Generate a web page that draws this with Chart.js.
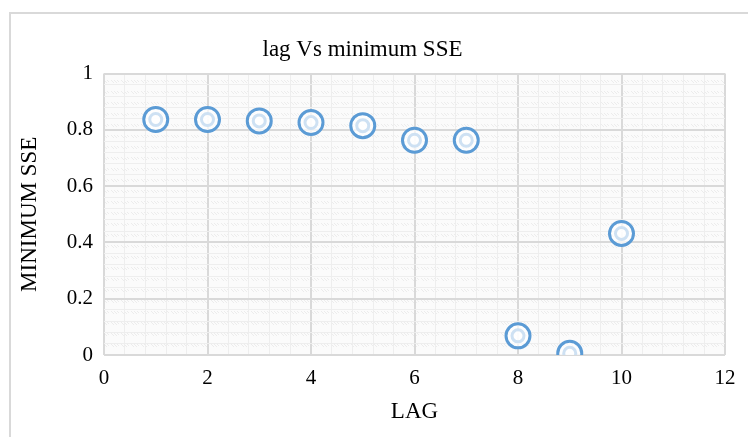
<!DOCTYPE html>
<html><head><meta charset="utf-8">
<script src="https://cdn.jsdelivr.net/npm/chart.js@4/dist/chart.umd.min.js"></script>
<style>
html,body{margin:0;padding:0;background:#fff;}
#wrap{position:relative;width:748px;height:437px;}
#frame{position:absolute;left:9px;top:12px;width:760px;height:440px;border:2px solid #d9d9d9;box-sizing:border-box;}
canvas{position:absolute;left:0;top:0;}
</style></head>
<body>
<div id="wrap"><div id="frame"></div><canvas id="c" width="748" height="437"></canvas></div>
<script>
const lags = [1, 2, 3, 4, 5, 6, 7, 8, 9, 10];
const minSSE = [0.837, 0.837, 0.832, 0.826, 0.815, 0.763, 0.763, 0.068, 0.006, 0.432];
const xTickLabels = [0, 2, 4, 6, 8, 10, 12];
const yTickLabels = [0, 0.2, 0.4, 0.6, 0.8, 1];

const points = lags.map((x, i) => ({x: x, y: minSSE[i]}));
const blue = '#5b9bd5';
const serif = '"Liberation Serif", "Times New Roman", serif';
const tickFont = {family: serif, size: 21};
const titleFont = {family: serif, size: 23, weight: 'normal'};

function makePattern(ctx) {
  const p = document.createElement('canvas');
  p.width = 10; p.height = 11;
  const g = p.getContext('2d');
  g.fillStyle = '#fbfbfb'; g.fillRect(0, 0, 10, 11);
  g.strokeStyle = '#ececec'; g.lineWidth = 1;
  g.beginPath(); g.moveTo(1, 3); g.lineTo(4, 6); g.moveTo(4, 3); g.lineTo(7, 6); g.moveTo(7, 3); g.lineTo(9, 5); g.stroke();
  return ctx.createPattern(p, 'repeat');
}

const bgPlugin = {
  id: 'bgPattern',
  beforeDraw(chart) {
    const {ctx, chartArea: a} = chart;
    ctx.save();
    ctx.fillStyle = makePattern(ctx);
    ctx.fillRect(a.left, a.top, a.right - a.left, a.bottom - a.top);
    ctx.restore();
  }
};

function isMajorX(v) { return Math.abs(v / 2 - Math.round(v / 2)) < 1e-6; }
function isMajorY(v) { return Math.abs(v / 0.2 - Math.round(v / 0.2)) < 1e-6; }

new Chart(document.getElementById('c'), {
  type: 'scatter',
  data: {
    datasets: [
      {data: points, pointRadius: 12, pointHoverRadius: 12, pointBorderWidth: 3, pointBorderColor: blue, pointBackgroundColor: 'rgba(255,255,255,0.7)'},
      {data: points, pointRadius: 6, pointHoverRadius: 6, pointBorderWidth: 3, pointBorderColor: blue, pointBackgroundColor: 'rgba(255,255,255,0.7)'}
    ]
  },
  options: {
    responsive: false,
    animation: false,
    layout: {padding: {left: 0, right: 23, top: 0, bottom: 0}},
    plugins: {
      legend: {display: false},
      tooltip: {enabled: false},
      title: {display: true, text: 'lag Vs minimum SSE', color: '#000', font: titleFont, padding: {top: 36, bottom: 10}}
    },
    scales: {
      x: {
        type: 'linear', min: 0, max: 12,
        afterFit(s) { s.height = 82; },
        ticks: {stepSize: 0.4, autoSkip: false, maxRotation: 0, color: '#000', font: tickFont, padding: 11,
          callback: (v) => isMajorX(v) && xTickLabels.includes(Math.round(v)) ? String(Math.round(v)) : ''},
        grid: {drawTicks: false, color: (c) => isMajorX(c.tick.value) ? '#d9d9d9' : '#eeeeee', lineWidth: (c) => isMajorX(c.tick.value) ? 2 : 1},
        border: {display: false},
        title: {display: true, text: 'LAG', color: '#000', font: titleFont, padding: {top: 3, bottom: 11}}
      },
      y: {
        type: 'linear', min: 0, max: 1,
        afterFit(s) { s.width = 104; },
        ticks: {stepSize: 0.04, autoSkip: false, color: '#000', font: tickFont, padding: 11,
          callback: (v) => {
            if (!isMajorY(v)) return '';
            const r = Math.round(v * 10) / 10;
            return yTickLabels.includes(r) ? String(r) : '';
          }},
        grid: {drawTicks: false, color: (c) => isMajorY(c.tick.value) ? '#d9d9d9' : '#eeeeee', lineWidth: (c) => isMajorY(c.tick.value) ? 2 : 1},
        border: {display: false},
        title: {display: true, text: 'MINIMUM SSE', color: '#000', font: titleFont, padding: {top: 16, bottom: 0}}
      }
    }
  },
  plugins: [bgPlugin]
});
</script>
</body></html>
